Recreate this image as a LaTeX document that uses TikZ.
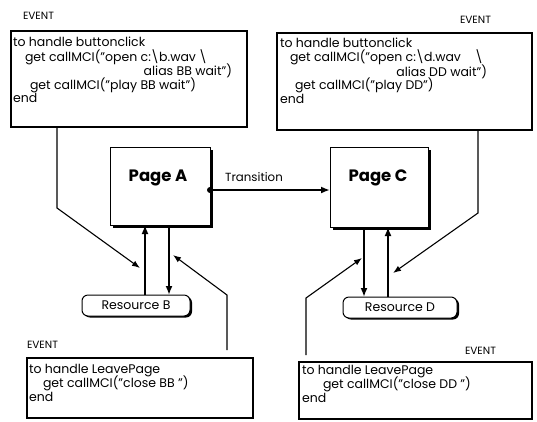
\documentclass[tikz,border=0pt]{standalone}
\usepackage{fontspec}
\setmainfont{Poppins}
\usetikzlibrary{arrows.meta,shadows}

\begin{document}
\begin{tikzpicture}[x=1pt,y=-1pt,
  every node/.style={inner sep=0pt,outer sep=0pt},
  code/.style={font=\fontsize{12.5}{14}\selectfont,anchor=base west},
  coderight/.style={font=\fontsize{12.5}{14}\selectfont,anchor=base east},
  evlabel/.style={font=\fontsize{10.5}{12}\selectfont,anchor=base west},
  codebox/.style={draw,line width=1.1pt,fill=white},
  pagebox/.style={draw,line width=0.8pt,fill=white,
    drop shadow={shadow xshift=3pt,shadow yshift=-3pt,fill=black,opacity=1}},
  pagetitle/.style={font=\bfseries\fontsize{16.5}{19}\selectfont},
  resbox/.style={draw,line width=1pt,fill=white,rounded corners=6pt,
    font=\fontsize{12.5}{14}\selectfont,
    drop shadow={shadow xshift=2pt,shadow yshift=-1.5pt,fill=black,opacity=1}},
  conn/.style={line width=1.1pt,-{Latex[length=8pt,width=6pt]}},
  fat/.style={line width=2pt,-{Latex[length=9pt,width=7pt]}},
  dot/.style={circle,fill=black,minimum size=6pt}
]
\fill[white] (0,0) rectangle (537,421);
\useasboundingbox (0,0) rectangle (537,421);

% script boxes
\node[codebox,minimum width=236pt,minimum height=96pt] (tl) at (129,79) {};
\node[codebox,minimum width=255pt,minimum height=97pt] (tr) at (404.5,81.5) {};
\node[codebox,minimum width=226pt,minimum height=60pt] (bl) at (140,388) {};
\node[codebox,minimum width=233pt,minimum height=57pt] (br) at (415.5,390.5) {};

\node[evlabel] (evtl) at (23,19.5) {EVENT};
\node[evlabel] (evtr) at (460,23) {EVENT};
\node[evlabel] (evbl) at (27,348) {EVENT};
\node[evlabel] (evbr) at (465,354) {EVENT};

% button click handler, page A
\node[code] (tl1) at (13,46) {to handle buttonclick};
\node[code] (tl2) at (25,61) {get callMCI("open c:\textbackslash b.wav\hspace{3pt}\textbackslash};
\node[coderight] (tl3) at (232,75) {alias BB wait")};
\node[code] (tl4) at (30,89) {get callMCI("play BB wait")};
\node[code] (tl5) at (13,102) {end};

% button click handler, page C
\node[code] (tr1) at (280,47) {to handle buttonclick};
\node[code] (tr2) at (290,61) {get callMCI("open c:\textbackslash d.wav\hspace{14pt}\textbackslash};
\node[coderight] (tr3) at (487,76) {alias DD wait")};
\node[code] (tr4) at (295,89) {get callMCI("play DD")};
\node[code] (tr5) at (280,103) {end};

% leave page handlers
\node[code] (bl1) at (29,373) {to handle LeavePage};
\node[code] (bl2) at (43,387) {get callMCI("close BB ")};
\node[code] (bl3) at (29,401) {end};
\node[code] (br1) at (302,374) {to handle LeavePage};
\node[code] (br2) at (323,388) {get callMCI("close DD ")};
\node[code] (br3) at (302,402) {end};

% pages and resources
\node[pagebox,minimum width=100pt,minimum height=78pt] (pa) at (160,186) {};
\node[pagebox,minimum width=98pt,minimum height=80pt] (pc) at (379,187) {};
\node[pagetitle] (pat) at (158,178) {Page A};
\node[pagetitle] (pct) at (378,178) {Page C};
\node[resbox,minimum width=108pt,minimum height=21pt] (rb) at (136,305.5) {Resource B};
\node[resbox,minimum width=114pt,minimum height=21pt] (rd) at (400,307.5) {Resource D};

% transition
\node[dot] (td) at ([yshift=-4pt]pa.east) {};
\draw[fat] (td.center) -- (td.center -| pc.west);
\node[font=\fontsize{11.8}{13}\selectfont] (tlab) at (254,177) {Transition};

% page <-> resource
\draw[fat] ([xshift=9pt]rb.north) -- ([xshift=9pt]rb.north |- pa.south);
\draw[fat] ([xshift=9pt]pa.south) -- ([xshift=9pt]pa.south |- rb.north);
\draw[fat] ([xshift=-15pt]pc.south) -- ([xshift=-15pt]pc.south |- rd.north);
\draw[fat] ([xshift=-12pt]rd.north) -- ([xshift=-12pt]rd.north |- pc.south);

% event connectors
\coordinate (tltip) at (140,268);
\coordinate (bltip) at (173,255);
\coordinate (trtip) at (393,273);
\coordinate (brtip) at (362,258);
\coordinate (blfoot) at (227,350);
\coordinate (brfoot) at (306,355);
\draw[conn] ([xshift=46pt]tl.south west) -- ++(0,81) -- (tltip);
\draw[conn] (blfoot) -- ++(0,-55) -- (bltip);
\draw[conn] ([xshift=-54pt]tr.south east) -- ++(0,83) -- (trtip);
\draw[conn] (brfoot) -- ++(0,-57) -- (brtip);
\end{tikzpicture}
\end{document}
